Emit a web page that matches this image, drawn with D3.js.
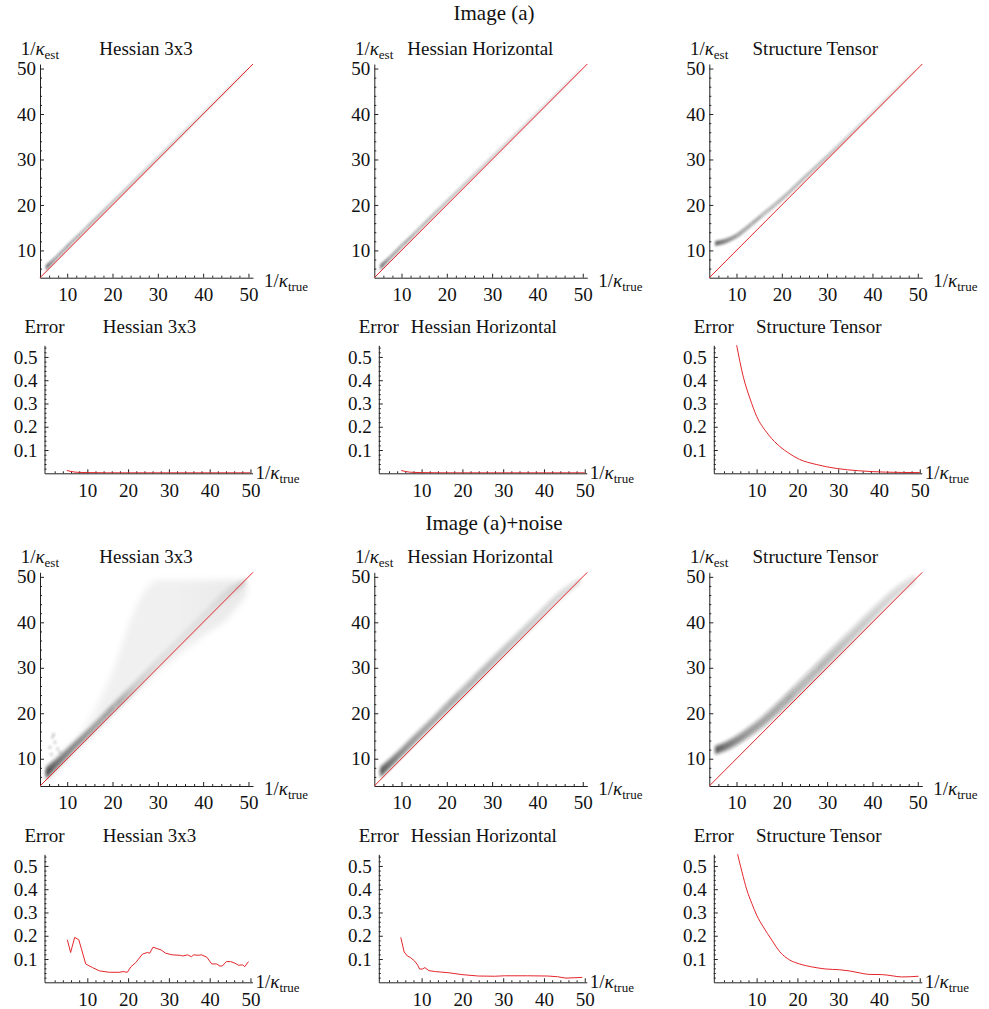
<!DOCTYPE html>
<meta charset="utf-8">
<html>
<head>
  <script src="https://d3js.org/d3.v7.min.js"></script>
  <style>
    body { margin: 0; background: #fff; }
    text { font-family: "Liberation Serif", "DejaVu Serif", serif; fill: #111; }
  </style>
</head>
<body>
<div id="chart"></div>
<script>

  // ---- data ----
  const columnTitles = ["Hessian 3x3", "Hessian Horizontal", "Structure Tensor"];
  const blockTitles = ["Image (a)", "Image (a)+noise"];

  const scatterTicks = [10, 20, 30, 40, 50];
  const errorXTicks = [10, 20, 30, 40, 50];
  const errorYTicks = [0.1, 0.2, 0.3, 0.4, 0.5];

  // true 1/kappa grid used for the density bands
  const bandTrue = [5.3, 7.5, 10, 12.5, 15, 20, 25, 30, 35, 40, 45, 49.5];

  // Image (a): estimated centre, half spread and darkness of the cloud
  const h3CleanEst    = [6.2, 8.3, 10.8, 13.2, 15.7, 20.6, 25.5, 30.4, 35.3, 40.2, 45.1, 49.6];
  const h3CleanSpread = [0.7, 0.6, 0.6, 0.55, 0.55, 0.5, 0.5, 0.5, 0.5, 0.45, 0.45, 0.4];
  const h3CleanShade  = [0.4, 0.25, 0.22, 0.2, 0.18, 0.16, 0.14, 0.12, 0.1, 0.09, 0.08, 0.06];

  const hhCleanEst    = [6.3, 8.4, 10.9, 13.3, 15.8, 20.7, 25.6, 30.5, 35.4, 40.3, 45.2, 49.7];
  const hhCleanSpread = [0.7, 0.6, 0.6, 0.55, 0.55, 0.5, 0.5, 0.5, 0.5, 0.45, 0.45, 0.4];
  const hhCleanShade  = [0.4, 0.25, 0.22, 0.2, 0.18, 0.16, 0.14, 0.12, 0.1, 0.09, 0.08, 0.06];

  const stCleanEst    = [11.5, 12.0, 13.2, 15.1, 17.2, 21.3, 26.0, 30.6, 35.4, 40.3, 45.2, 49.7];
  const stCleanSpread = [0.6, 0.6, 0.6, 0.6, 0.6, 0.6, 0.6, 0.6, 0.55, 0.5, 0.5, 0.4];
  const stCleanShade  = [0.45, 0.35, 0.28, 0.24, 0.2, 0.18, 0.17, 0.15, 0.12, 0.09, 0.07, 0.05];

  // Image (a)+noise
  const h3NoisyEst    = [6.8, 8.8, 11.2, 13.7, 16.0, 21.0, 25.8, 31, 36, 41, 46, 49];
  const h3NoisySpread = [1.4, 1.3, 1.2, 1.1, 1.1, 1.2, 1.5, 1.5, 1.5, 1.5, 1.5, 1.0];
  const h3NoisyShade  = [0.55, 0.4, 0.33, 0.3, 0.26, 0.2, 0.08, 0.04, 0.03, 0.03, 0.04, 0.05];
  // wide faint spray above the diagonal (Hessian 3x3 + noise)
  const h3SprayLow    = [5, 7, 9.5, 12, 14.5, 19.5, 24.5, 29, 33, 37, 40.5, 46];
  const h3SprayHigh   = [8, 10, 12.5, 15, 19, 29, 43, 49.3, 49.3, 49.3, 49.3, 49.3];
  const h3SprayShade  = [0.05, 0.05, 0.05, 0.05, 0.05, 0.06, 0.06, 0.06, 0.06, 0.07, 0.08, 0.09];
  const h3OutlierTrue = [6.2, 6.8, 7.3, 7.9, 8.4, 6.5, 7.0];
  const h3OutlierEst  = [12.5, 14.8, 13.6, 12.2, 11.4, 11.0, 15.3];

  const hhNoisyEst    = [7.0, 9.0, 11.4, 13.9, 16.3, 21.3, 26.2, 31.2, 36.1, 41.0, 45.9, 49.2];
  const hhNoisySpread = [1.3, 1.2, 1.2, 1.2, 1.2, 1.3, 1.4, 1.4, 1.4, 1.4, 1.3, 1.0];
  const hhNoisyShade  = [0.5, 0.4, 0.32, 0.28, 0.25, 0.22, 0.18, 0.15, 0.12, 0.1, 0.08, 0.06];

  const stNoisyEst    = [11.9, 12.7, 14.0, 15.7, 17.5, 21.9, 26.7, 31.7, 36.6, 41.6, 46.4, 49.6];
  const stNoisySpread = [1.0, 1.1, 1.2, 1.3, 1.4, 1.6, 1.8, 1.9, 1.9, 1.8, 1.6, 1.2];
  const stNoisyShade  = [0.5, 0.4, 0.32, 0.28, 0.25, 0.22, 0.18, 0.15, 0.12, 0.1, 0.08, 0.06];

  // error curves
  const h3CleanErrX = [5, 6, 7, 8, 10, 15, 20, 30, 40, 50];
  const h3CleanErr  = [0.012, 0.008, 0.005, 0.004, 0.003, 0.002, 0.002, 0.002, 0.002, 0.002];
  const hhCleanErrX = [5, 6, 7, 8, 10, 15, 20, 30, 40, 50];
  const hhCleanErr  = [0.012, 0.008, 0.005, 0.004, 0.003, 0.002, 0.002, 0.002, 0.002, 0.002];
  const stCleanErrX = [5.0, 6.8, 8.4, 10, 12.5, 15, 17.5, 20.5, 24.6, 29.5, 35, 41.6, 50];
  const stCleanErr  = [0.56, 0.41, 0.32, 0.245, 0.175, 0.126, 0.091, 0.06, 0.038, 0.021, 0.011, 0.005, 0.003];

  const h3NoisyErrX = [5.1, 5.9, 6.9, 7.9, 8.5, 9.6, 11.3, 13, 15.4, 17.8, 18.8, 19.8, 20.7, 21.9, 23.5, 24.7, 25.3, 26.1, 27.1, 28.1, 29.2, 30.8, 32.8, 33.4, 34.6, 35.5, 36.1, 37.2, 38, 39.3, 40.5, 41.7, 42.5, 43.1, 44.1, 45.1, 46.2, 47.1, 48.1, 48.6, 49.5];
  const h3NoisyErr  = [0.183, 0.128, 0.193, 0.183, 0.147, 0.079, 0.063, 0.049, 0.043, 0.043, 0.046, 0.043, 0.067, 0.085, 0.121, 0.128, 0.125, 0.151, 0.145, 0.139, 0.125, 0.118, 0.116, 0.113, 0.118, 0.11, 0.118, 0.116, 0.118, 0.108, 0.079, 0.079, 0.07, 0.07, 0.089, 0.089, 0.082, 0.073, 0.075, 0.067, 0.089];
  const hhNoisyErrX = [4.9, 5.7, 6.5, 7.3, 8.2, 9.0, 9.5, 10.2, 10.8, 11.8, 13.4, 16.7, 19.9, 23.9, 27.9, 30.4, 36, 40.9, 43.3, 45.4, 49.4];
  const hhNoisyErr  = [0.193, 0.131, 0.113, 0.106, 0.093, 0.075, 0.057, 0.057, 0.063, 0.05, 0.046, 0.041, 0.033, 0.027, 0.026, 0.028, 0.028, 0.027, 0.024, 0.018, 0.021];
  const stNoisyErrX = [5.2, 6.4, 7.6, 8.8, 10, 11.6, 13.7, 15.7, 18.1, 20.5, 22.2, 24.6, 27, 30.3, 32.7, 35.1, 37.5, 40.8, 43.2, 45.6, 49.7];
  const stNoisyErr  = [0.56, 0.475, 0.397, 0.34, 0.289, 0.239, 0.182, 0.131, 0.096, 0.079, 0.071, 0.063, 0.057, 0.054, 0.049, 0.041, 0.034, 0.033, 0.028, 0.023, 0.026];

  // ---- layout ----
  const colX = [40, 374.3, 709.3];      // scatter y-axis positions
  const errShift = 4.5;                 // error panels sit a little to the right
  const scatterBase = [277.7, 786];     // x-axis y of scatter rows
  const errorBase = [473.3, 982.3];     // x-axis y of error rows
  const sW = 213, sH = 213.7, eW = 208, eH = 128;
  const red = "#e3262b";

  const svg = d3.select("#chart").append("svg")
    .attr("width", 989).attr("height", 1009);

  const defs = svg.append("defs");
  [["soft", 1.2], ["mid", 1.8], ["softer", 3]].forEach(([id, sd]) => {
    defs.append("filter").attr("id", id).attr("x", "-20%").attr("y", "-20%")
        .attr("width", "140%").attr("height", "140%")
      .append("feGaussianBlur").attr("stdDeviation", sd);
  });

  const x = d3.scaleLinear().domain([4, 51]).range([0, sW]);
  const y = d3.scaleLinear().domain([4, 51]).range([sH, 0]);
  const ex = d3.scaleLinear().domain([-0.5, 50.5]).range([0, eW]);
  const ey = d3.scaleLinear().domain([0, 0.55]).range([eH, 0]);

  const tickFont = 19;
  const labelFont = 19;
  let gradId = 0;

  function kappaLabel(g, tx, ty, sub, anchor) {
    const t = g.append("text").attr("x", tx).attr("y", ty)
      .attr("text-anchor", anchor).style("font-size", labelFont + "px");
    t.append("tspan").text("1/");
    t.append("tspan").style("font-style", "italic").text("κ");
    t.append("tspan").attr("dy", 4).style("font-size", "13px").text(sub);
  }

  function styleAxis(a) {
    a.selectAll("path, line").attr("stroke", "#222").attr("stroke-width", 1);
    a.selectAll("text").style("font-size", tickFont + "px")
      .style("font-family", "Liberation Serif").attr("fill", "#111");
  }

  function drawAxes(g, xs, ys, xMajor, yMajor, xMinor, yMinor, yFmt, yPad) {
    const h = ys.range()[0];
    g.append("g").attr("transform", `translate(0,${h})`)
      .call(d3.axisBottom(xs).tickValues(xMinor).tickFormat("").tickSizeInner(-2).tickSizeOuter(0))
      .call(a => a.select(".domain").remove()).call(styleAxis);
    g.append("g")
      .call(d3.axisLeft(ys).tickValues(yMinor).tickFormat("").tickSizeInner(-2).tickSizeOuter(0))
      .call(a => a.select(".domain").remove()).call(styleAxis);
    g.append("g").attr("transform", `translate(0,${h})`)
      .call(d3.axisBottom(xs).tickValues(xMajor).tickSizeInner(-4).tickSizeOuter(0).tickPadding(10))
      .call(styleAxis);
    g.append("g")
      .call(d3.axisLeft(ys).tickValues(yMajor).tickFormat(yFmt).tickSizeInner(-4).tickSizeOuter(0).tickPadding(yPad))
      .call(styleAxis);
  }

  function gradient(xs, shade) {
    const id = "g" + (gradId++);
    const x0 = xs(bandTrue[0]), x1 = xs(bandTrue[bandTrue.length - 1]);
    const lg = defs.append("linearGradient").attr("id", id)
      .attr("gradientUnits", "userSpaceOnUse")
      .attr("x1", x0).attr("x2", x1).attr("y1", 0).attr("y2", 0);
    bandTrue.forEach((t, i) => {
      lg.append("stop").attr("offset", (xs(t) - x0) / (x1 - x0))
        .attr("stop-color", "#1a1a1a").attr("stop-opacity", shade[i]);
    });
    return "url(#" + id + ")";
  }

  function band(g, est, spread, shade, blur) {
    const fill = gradient(x, shade);
    const rows = bandTrue.map((t, i) => ({t, c: est[i], s: spread[i]}));
    [1, 0.45].forEach(k => {
      g.append("path").datum(rows)
        .attr("fill", fill).attr("filter", `url(#${blur})`)
        .attr("d", d3.area().curve(d3.curveMonotoneX)
          .x(d => x(d.t)).y0(d => y(d.c - d.s * k)).y1(d => y(d.c + d.s * k)));
    });
  }

  function spray(g) {
    const fill = gradient(x, h3SprayShade);
    const rows = bandTrue.map((t, i) => ({t, lo: h3SprayLow[i], hi: h3SprayHigh[i]}));
    g.append("path").datum(rows)
      .attr("fill", fill).attr("filter", "url(#softer)")
      .attr("d", d3.area().curve(d3.curveMonotoneX)
        .x(d => x(d.t)).y0(d => y(d.lo)).y1(d => y(d.hi)));
    g.append("g").attr("filter", "url(#soft)")
      .selectAll("circle").data(h3OutlierTrue).join("circle")
      .attr("cx", d => x(d)).attr("cy", (d, i) => y(h3OutlierEst[i]))
      .attr("r", 1.5).attr("fill", "#333").attr("opacity", 0.25);
  }

  const sMinor = d3.range(6, 51, 2).filter(v => v % 10 !== 0);
  const eXMinor = d3.range(2, 51, 2).filter(v => v % 10 !== 0);
  const eYMinor = d3.range(1, 28).map(v => v * 0.02).filter(v => Math.abs(v * 10 - Math.round(v * 10)) > 1e-6);

  const cleanBands = [
    [h3CleanEst, h3CleanSpread, h3CleanShade],
    [hhCleanEst, hhCleanSpread, hhCleanShade],
    [stCleanEst, stCleanSpread, stCleanShade]
  ];
  const noisyBands = [
    [h3NoisyEst, h3NoisySpread, h3NoisyShade],
    [hhNoisyEst, hhNoisySpread, hhNoisyShade],
    [stNoisyEst, stNoisySpread, stNoisyShade]
  ];
  const cleanErrors = [[h3CleanErrX, h3CleanErr], [hhCleanErrX, hhCleanErr], [stCleanErrX, stCleanErr]];
  const noisyErrors = [[h3NoisyErrX, h3NoisyErr], [hhNoisyErrX, hhNoisyErr], [stNoisyErrX, stNoisyErr]];

  // block titles
  [20, 530].forEach((ty, b) => {
    svg.append("text").attr("x", 494).attr("y", ty).attr("text-anchor", "middle")
      .style("font-size", "21px").text(blockTitles[b]);
  });

  [0, 1].forEach(row => {
    const bands = row === 0 ? cleanBands : noisyBands;
    const errs = row === 0 ? cleanErrors : noisyErrors;

    colX.forEach((cx, c) => {
      // scatter panel
      const g = svg.append("g").attr("transform", `translate(${cx},${scatterBase[row] - sH})`);
      if (row === 1 && c === 0) spray(g);
      band(g, bands[c][0], bands[c][1], bands[c][2], row === 0 ? "soft" : "mid");
      drawAxes(g, x, y, scatterTicks, scatterTicks, sMinor, sMinor, d3.format("d"), 4);
      g.append("path").datum([4, 51])
        .attr("fill", "none").attr("stroke", red).attr("stroke-width", 1)
        .attr("d", d3.line().x(d => x(d)).y(d => y(d)));
      kappaLabel(g, 19, -9, "est", "end");
      kappaLabel(g, sW + 11, sH + 9, "true", "start");
      g.append("text").attr("x", 106).attr("y", -9).attr("text-anchor", "middle")
        .style("font-size", labelFont + "px").text(columnTitles[c]);

      // error panel
      const eg = svg.append("g").attr("transform", `translate(${cx + errShift},${errorBase[row] - eH})`);
      const clipId = "clip" + row + c;
      eg.append("clipPath").attr("id", clipId).append("rect")
        .attr("x", 0).attr("y", 0).attr("width", eW + 2).attr("height", eH);
      drawAxes(eg, ex, ey, errorXTicks, errorYTicks, eXMinor, eYMinor, d3.format(".1f"), 7);
      const ex_ = errs[c][0], ev = errs[c][1];
      eg.append("path").datum(ex_.map((t, i) => [t, ev[i]]))
        .attr("clip-path", `url(#${clipId})`)
        .attr("fill", "none").attr("stroke", red).attr("stroke-width", 1)
        .attr("d", d3.line().curve(c === 2 ? d3.curveMonotoneX : d3.curveLinear)
          .x(d => ex(d[0])).y(d => ey(d[1])));
      eg.append("text").attr("x", 20).attr("y", -12).attr("text-anchor", "end")
        .style("font-size", labelFont + "px").text("Error");
      eg.append("text").attr("x", 105).attr("y", -12).attr("text-anchor", "middle")
        .style("font-size", labelFont + "px").text(columnTitles[c]);
      kappaLabel(eg, eW + 3, eH + 6, "true", "start");
    });
  });

</script>
</body>
</html>
